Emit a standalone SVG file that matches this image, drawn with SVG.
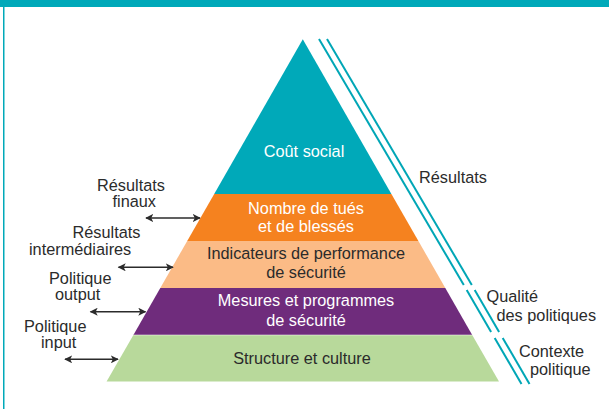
<svg xmlns="http://www.w3.org/2000/svg" width="609" height="409" viewBox="0 0 609 409">
<style>
text{font-family:"Liberation Sans",Arial,sans-serif;font-size:16.3px;fill:#2b2b2b}
.w{fill:#ffffff}
.c{text-anchor:middle}
.dl{stroke:#00a6b6;stroke-width:2;fill:none}
.ar{stroke:#2b2b2b;stroke-width:1.4;fill:none;marker-start:url(#ah);marker-end:url(#ah)}
.sep{stroke:#ffffff;stroke-opacity:0.5;stroke-width:1}
</style>
<defs>
<marker id="ah" viewBox="0 0 10 10" refX="9" refY="5" markerWidth="8.5" markerHeight="8" orient="auto-start-reverse" markerUnits="userSpaceOnUse">
<path d="M0,0 L10,5 L0,10 L2.5,5 Z" fill="#2b2b2b"/>
</marker>
</defs>
<rect x="0" y="0" width="609" height="409" fill="#ffffff"/>
<rect x="0" y="0" width="609" height="7" fill="#00a9b9"/>
<rect x="3" y="7" width="1.5" height="402" fill="#00a9b9"/>

<g id="tier-cout-social">
<polygon points="302.8,39.3 391.4,194 214.2,194" fill="#00a9b9"/>
<text class="w c" x="304" y="157">Coût social</text>
</g>
<g id="tier-nombre-tues">
<polygon points="214.2,194 391.4,194 418.4,241 187.2,241" fill="#f5821f"/>
<text class="w c" x="306" y="214">Nombre de tués</text>
<text class="w c" x="306" y="232">et de blessés</text>
</g>
<g id="tier-indicateurs">
<polygon points="187.2,241 418.4,241 445.3,288 160.3,288" fill="#fbbb86"/>
<text class="c" x="306" y="259">Indicateurs de performance</text>
<text class="c" x="306" y="278">de sécurité</text>
</g>
<g id="tier-mesures">
<polygon points="160.3,288 445.3,288 472.2,335 133.4,335" fill="#6f2c7c"/>
<text class="w c" x="306" y="306">Mesures et programmes</text>
<text class="w c" x="306" y="325.5">de sécurité</text>
</g>
<g id="tier-structure">
<polygon points="133.4,335 472.2,335 499,381.5 106.6,381.5" fill="#b8d99b"/>
<text class="c" x="302" y="364">Structure et culture</text>
</g>
<line class="sep" x1="133.4" y1="335" x2="472.2" y2="335"/>

<g id="label-resultats">
<text x="419" y="183">Résultats</text>
</g>
<g id="label-qualite">
<text x="486.5" y="301.5">Qualité</text>
<text x="496.5" y="321">des politiques</text>
</g>
<g id="label-contexte">
<text x="519" y="356.5">Contexte</text>
<text x="530" y="374.5">politique</text>
</g>
<g id="label-resultats-finaux">
<text x="97" y="190.5">Résultats</text>
<text x="112.5" y="207">finaux</text>
</g>
<g id="label-resultats-intermediaires">
<text x="72.5" y="238">Résultats</text>
<text x="29" y="255">intermédiaires</text>
</g>
<g id="label-politique-output">
<text x="49" y="283.5">Politique</text>
<text x="55" y="300">output</text>
</g>
<g id="label-politique-input">
<text x="24" y="331.5">Politique</text>
<text x="41" y="348">input</text>
</g>

<g id="connectors">
<line class="ar" x1="146" y1="218" x2="200" y2="218"/>
<line class="ar" x1="118.5" y1="267.3" x2="173" y2="267.3"/>
<line class="ar" x1="90.5" y1="311.7" x2="145.5" y2="311.7"/>
<line class="ar" x1="65" y1="359.3" x2="118" y2="359.3"/>
<line class="dl" x1="319" y1="39" x2="463.8" y2="285"/>
<line class="dl" x1="327" y1="39" x2="471.8" y2="285"/>
<line class="dl" x1="466.7" y1="290" x2="491.1" y2="332"/>
<line class="dl" x1="474.7" y1="290" x2="499.1" y2="332"/>
<line class="dl" x1="494.7" y1="338" x2="521.5" y2="384"/>
<line class="dl" x1="502.7" y1="338" x2="529.5" y2="384"/>
</g>
</svg>
